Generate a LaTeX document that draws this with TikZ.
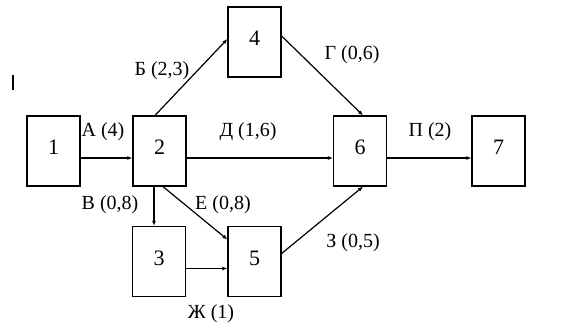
\documentclass[tikz,border=0pt]{standalone}
\usepackage{fontspec}
\setmainfont{Liberation Serif}
\usetikzlibrary{arrows.meta}
\begin{document}
\begin{tikzpicture}[x=1pt,y=-1pt,
  ev/.style={draw,line width=1.2pt,minimum width=53pt,minimum height=70pt,inner sep=0pt,font=\fontsize{22}{24}\selectfont,text depth=7pt},
  lab/.style={font=\fontsize{20}{22}\selectfont,inner sep=0pt},
  arr/.style={line width=1.2pt,-{Latex[length=5pt,width=4pt]}}]
\useasboundingbox (0,0) rectangle (569,329);
\node[ev] (n1) at (53.5,151) {1};
\node[ev] (n2) at (159.5,151) {2};
\node[ev] (n4) at (254.5,42) {4};
\node[ev] (n6) at (360,151) {6};
\node[ev] (n7) at (498.5,151) {7};
\node[ev] (n3) at (159,261.5) {3};
\node[ev] (n5) at (254.5,261.5) {5};
\draw[arr] ([yshift=-7]n1.east) -- ([yshift=-7]n2.west);
\draw[arr] ([yshift=-7]n2.east) -- ([yshift=-7]n6.west);
\draw[arr] ([yshift=-7]n6.east) -- ([yshift=-7]n7.west);
\draw[arr] ([xshift=-4.5]n2.north) -- ([yshift=3]n4.west);
\draw[arr] ([yshift=6]n4.east) -- ([xshift=3]n6.north);
\draw[arr] ([xshift=-5.5]n2.south) -- ([xshift=-5]n3.north);
\draw[arr] ([xshift=3.5]n2.south) -- ([yshift=22]n5.west);
\draw[arr] ([yshift=-7]n3.east) -- ([yshift=-7]n5.west);
\draw[arr] ([yshift=8]n5.east) -- ([xshift=3]n6.south);
\node[lab] (lA) at (103,132) {А (4)};
\node[lab] (lD) at (248,132) {Д (1,6)};
\node[lab] (lP) at (430,132) {П (2)};
\node[lab] (lB) at (162,71) {Б (2,3)};
\node[lab] (lG) at (352,55) {Г (0,6)};
\node[lab] (lV) at (110,205) {В (0,8)};
\node[lab] (lE) at (223,205) {Е (0,8)};
\node[lab] (lZ) at (353,243) {З (0,5)};
\node[lab] (lZh) at (211,314) {Ж (1)};
\draw[line width=1.8pt] (13,75) -- (13,90);
\end{tikzpicture}
\end{document}
